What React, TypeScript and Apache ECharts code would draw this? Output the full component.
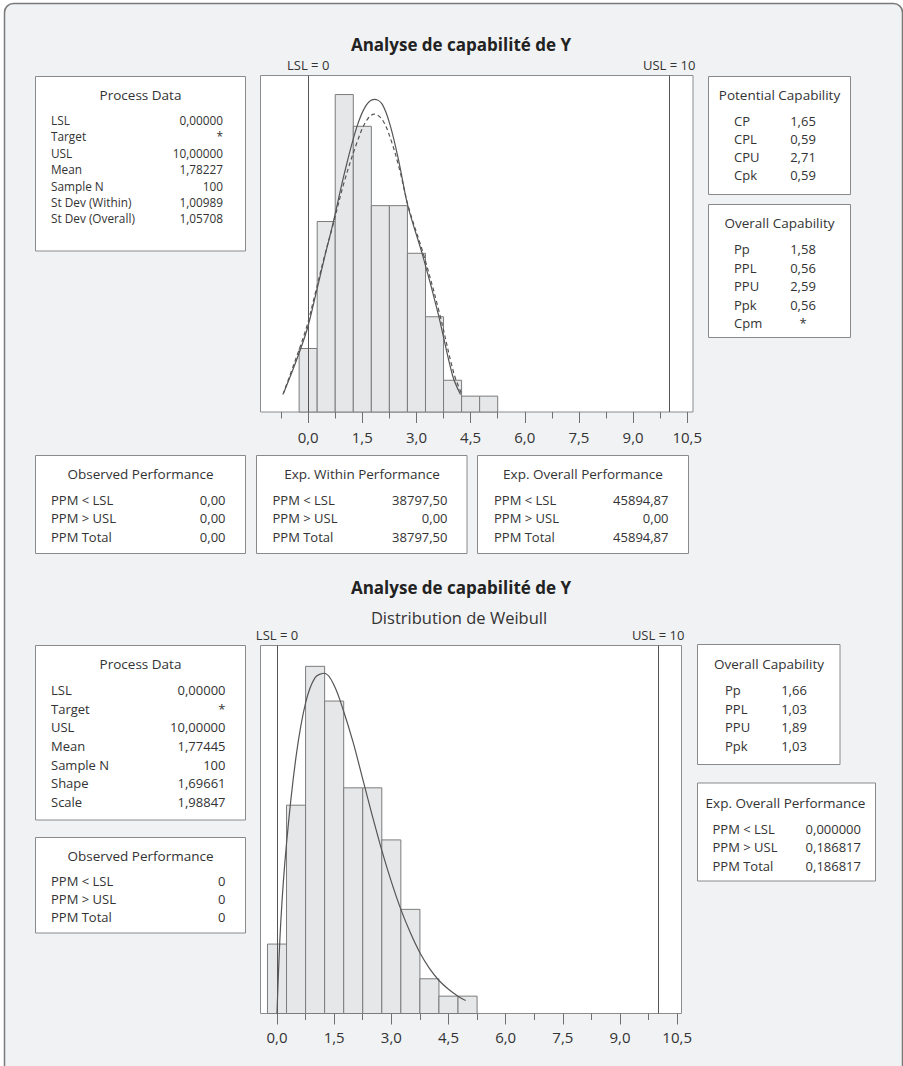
import React, { useEffect, useRef } from "react";
import * as echarts from "echarts";

// ---------- data ----------
const binCenters = [0, 0.5, 1, 1.5, 2, 2.5, 3, 3.5, 4, 4.5, 5];
const binWidth = 0.5;
const countsNormal = [4, 12, 20, 18, 13, 13, 10, 6, 2, 1, 1];
const countsWeibull = [4, 12, 20, 18, 13, 13, 10, 6, 2, 1, 1];

const withinCurve = [
  [-0.68, 1.2], [-0.35, 3.1], [-0.03, 5.2], [0.21, 7.4], [0.45, 9.7], [0.69, 11.9],
  [1.0, 15.0], [1.34, 17.9], [1.6, 19.3], [1.83, 19.7], [2.05, 19.4], [2.28, 18.0],
  [2.52, 15.7], [2.76, 13.0], [3.18, 9.8], [3.6, 6.2], [4.0, 2.3], [4.22, 1.1],
];
const overallCurve = [
  [-0.7, 1.1], [-0.38, 3.1], [-0.05, 5.3], [0.2, 7.5], [0.45, 9.8], [0.69, 11.8],
  [1.0, 14.5], [1.34, 16.9], [1.6, 18.3], [1.83, 18.77], [2.06, 18.4], [2.3, 17.1],
  [2.54, 15.2], [2.78, 12.9], [3.2, 9.9], [3.63, 6.3], [4.04, 2.4], [4.26, 1.1],
];
const weibullCurve = [
  [0, 0], [0.1, 5.3], [0.25, 9.8], [0.5, 14.8], [0.75, 17.9], [1.0, 19.35], [1.25, 19.6],
  [1.5, 18.9], [1.75, 17.4], [2.0, 15.6], [2.25, 13.5], [2.5, 11.4], [2.75, 9.4],
  [3.0, 7.6], [3.25, 6.0], [3.5, 4.65], [3.75, 3.5], [4.0, 2.6], [4.25, 1.9],
  [4.5, 1.4], [4.75, 1.0], [4.95, 0.75],
];

const majorTicks = [0, 1.5, 3, 4.5, 6, 7.5, 9, 10.5];
const minorTicks = [-0.75, 0.75, 2.25, 3.75, 5.25, 6.75, 8.25, 9.75];
const LSL = 0;
const USL = 10;

const titleText = "Analyse de capabilité de Y";
const subtitleText = "Distribution de Weibull";

const pd1Labels = ["LSL", "Target", "USL", "Mean", "Sample N", "St Dev (Within)", "St Dev (Overall)"];
const pd1Values = ["0,00000", "*", "10,00000", "1,78227", "100", "1,00989", "1,05708"];
const potLabels = ["CP", "CPL", "CPU", "Cpk"];
const potValues = ["1,65", "0,59", "2,71", "0,59"];
const ovc1Labels = ["Pp", "PPL", "PPU", "Ppk", "Cpm"];
const ovc1Values = ["1,58", "0,56", "2,59", "0,56", "*"];
const ppmLabels = ["PPM < LSL", "PPM > USL", "PPM Total"];
const obs1Values = ["0,00", "0,00", "0,00"];
const expWithinValues = ["38797,50", "0,00", "38797,50"];
const expOverall1Values = ["45894,87", "0,00", "45894,87"];

const pd2Labels = ["LSL", "Target", "USL", "Mean", "Sample N", "Shape", "Scale"];
const pd2Values = ["0,00000", "*", "10,00000", "1,77445", "100", "1,69661", "1,98847"];
const obs2Values = ["0", "0", "0"];
const ovc2Labels = ["Pp", "PPL", "PPU", "Ppk"];
const ovc2Values = ["1,66", "1,03", "1,89", "1,03"];
const expOverall2Values = ["0,000000", "0,186817", "0,186817"];

// ---------- styling ----------
const FONT = '"Open Sans", "Noto Sans", sans-serif';
const TXT = "#333";

function makeBox(b: any) {
  const fs = b.fontSize || 13;
  const els: any[] = [
    {
      type: "rect",
      z: 5,
      shape: { x: b.x, y: b.y, width: b.w, height: b.h },
      style: { fill: "#fff", stroke: "#8a8a8a", lineWidth: 1 },
    },
    {
      type: "text",
      z: 6,
      x: b.titleX,
      y: b.titleY,
      style: {
        text: b.title, fontSize: 13.5, fontFamily: FONT, fill: TXT,
        align: "center", verticalAlign: "middle",
      },
    },
  ];
  b.labels.forEach((lab: string, i: number) => {
    const y = b.rowY0 + i * b.step;
    els.push({
      type: "text", z: 6, x: b.labelX, y,
      style: { text: lab, fontSize: fs, fontFamily: FONT, fill: TXT, align: "left", verticalAlign: "middle" },
    });
    els.push({
      type: "text", z: 6, x: b.valueX, y,
      style: { text: b.values[i], fontSize: fs, fontFamily: FONT, fill: TXT, align: b.valueAlign, verticalAlign: "middle" },
    });
  });
  return els;
}

const fmt = (v: number) => v.toFixed(1).replace(".", ",");

function histSeries(xi: number, yi: number, counts: number[]) {
  return {
    type: "custom",
    xAxisIndex: xi,
    yAxisIndex: yi,
    z: 2,
    encode: { x: 0, y: 1 },
    data: binCenters.map((c, i) => [c, counts[i]]),
    renderItem: (_p: any, api: any) => {
      const x = api.value(0);
      const y = api.value(1);
      const p0 = api.coord([x - binWidth / 2, y]);
      const p1 = api.coord([x + binWidth / 2, 0]);
      return {
        type: "rect",
        shape: { x: p0[0], y: p0[1], width: p1[0] - p0[0], height: p1[1] - p0[1] },
        style: { fill: "#e6e7e9", stroke: "#7c7c7c", lineWidth: 1 },
      };
    },
  };
}

function specMarkLine() {
  return {
    silent: true,
    symbol: ["none", "none"],
    lineStyle: { color: "#555", width: 1, type: "solid" },
    label: {
      show: true, position: "end", formatter: "{b}", color: TXT,
      fontSize: 13, fontFamily: FONT, distance: 4,
    },
    data: [
      { name: `LSL = ${LSL}`, xAxis: LSL },
      { name: `USL = ${USL}`, xAxis: USL },
    ],
  };
}

function curveSeries(xi: number, yi: number, data: number[][], dashed: boolean, withMark: boolean) {
  const s: any = {
    type: "line",
    xAxisIndex: xi,
    yAxisIndex: yi,
    z: 4,
    data,
    showSymbol: false,
    symbol: "none",
    smooth: 0.35,
    lineStyle: { color: "#555", width: 1.2, type: dashed ? [4, 3] : "solid" },
  };
  if (withMark) s.markLine = specMarkLine();
  return s;
}

function majorAxis(gridIndex: number, min: number, max: number, margin: number) {
  return {
    type: "value", gridIndex, min, max, position: "bottom",
    axisLine: { show: false }, splitLine: { show: false },
    axisTick: { show: true, customValues: majorTicks, length: 11, lineStyle: { color: "#707070", width: 1 } },
    axisLabel: {
      show: true, customValues: majorTicks, formatter: fmt, margin,
      fontSize: 15, color: TXT, fontFamily: FONT,
    },
  };
}
function minorAxis(gridIndex: number, min: number, max: number) {
  return {
    type: "value", gridIndex, min, max, position: "bottom",
    axisLine: { show: false }, splitLine: { show: false },
    axisTick: {
      show: true, customValues: minorTicks.filter((t) => t > min && t < max),
      length: 6.5, lineStyle: { color: "#707070", width: 1 },
    },
    axisLabel: { show: false },
  };
}

export default function App() {
  const ref = useRef<HTMLDivElement>(null);
  useEffect(() => {
    if (!ref.current) return;
    const chart = echarts.init(ref.current, undefined, { renderer: "svg" });

    const g1 = { left: 260.5, top: 75.5, width: 432.5, height: 336.5 };
    const g2 = { left: 260.5, top: 645.5, width: 421, height: 368 };
    const top = { min: -1.32, max: 10.66 };
    const bot = { min: -0.433, max: 10.614 };

    const graphics: any[] = [
      {
        type: "rect", z: -100,
        shape: { x: 4.5, y: 3.5, width: 898, height: 1100, r: 9 },
        style: { fill: "#f1f2f4", stroke: "#7a7a7a", lineWidth: 1.5 },
      },
      {
        type: "text", z: 6, x: 461, y: 44,
        style: { text: titleText, fontSize: 17, fontWeight: "bold", fontFamily: FONT, fill: "#222", align: "center", verticalAlign: "middle" },
      },
      {
        type: "text", z: 6, x: 461, y: 587,
        style: { text: titleText, fontSize: 17, fontWeight: "bold", fontFamily: FONT, fill: "#222", align: "center", verticalAlign: "middle" },
      },
      {
        type: "text", z: 6, x: 459, y: 617,
        style: { text: subtitleText, fontSize: 16.5, fontFamily: FONT, fill: TXT, align: "center", verticalAlign: "middle" },
      },
      ...makeBox({ x: 35.5, y: 76.5, w: 210, h: 174.5, title: "Process Data", titleX: 140.5, titleY: 94.5, labels: pd1Labels, values: pd1Values, rowY0: 120, step: 16.4, fontSize: 11.8, labelX: 51, valueX: 223, valueAlign: "right" }),
      ...makeBox({ x: 708.5, y: 76.5, w: 142, h: 118, title: "Potential Capability", titleX: 779.5, titleY: 94.5, labels: potLabels, values: potValues, rowY0: 121, step: 18, labelX: 734, valueX: 803, valueAlign: "center" }),
      ...makeBox({ x: 708.5, y: 204.5, w: 142, h: 133, title: "Overall Capability", titleX: 779.5, titleY: 222.5, labels: ovc1Labels, values: ovc1Values, rowY0: 249, step: 18.5, labelX: 734, valueX: 803, valueAlign: "center" }),
      ...makeBox({ x: 35.5, y: 455.5, w: 210, h: 98, title: "Observed Performance", titleX: 140.5, titleY: 474, labels: ppmLabels, values: obs1Values, rowY0: 500, step: 18.3, labelX: 51, valueX: 225.5, valueAlign: "right" }),
      ...makeBox({ x: 256.5, y: 455.5, w: 210.5, h: 98, title: "Exp. Within Performance", titleX: 362, titleY: 474, labels: ppmLabels, values: expWithinValues, rowY0: 500, step: 18.3, labelX: 272.5, valueX: 447.5, valueAlign: "right" }),
      ...makeBox({ x: 477.5, y: 455.5, w: 211, h: 98, title: "Exp. Overall Performance", titleX: 583, titleY: 474, labels: ppmLabels, values: expOverall1Values, rowY0: 500, step: 18.3, labelX: 494, valueX: 668.5, valueAlign: "right" }),
      ...makeBox({ x: 35.5, y: 645.5, w: 210, h: 174.5, title: "Process Data", titleX: 140.5, titleY: 664, labels: pd2Labels, values: pd2Values, rowY0: 690, step: 18.65, labelX: 51, valueX: 225.5, valueAlign: "right" }),
      ...makeBox({ x: 35.5, y: 837.5, w: 210, h: 95.5, title: "Observed Performance", titleX: 140.5, titleY: 856, labels: ppmLabels, values: obs2Values, rowY0: 881, step: 18, labelX: 51, valueX: 225.5, valueAlign: "right" }),
      ...makeBox({ x: 697.5, y: 644.5, w: 142.5, h: 120, title: "Overall Capability", titleX: 769, titleY: 663.5, labels: ovc2Labels, values: ovc2Values, rowY0: 690, step: 18.6, labelX: 725, valueX: 794, valueAlign: "center" }),
      ...makeBox({ x: 697.5, y: 783, w: 178, h: 98, title: "Exp. Overall Performance", titleX: 785.5, titleY: 802.5, labels: ppmLabels, values: expOverall2Values, rowY0: 829, step: 18.4, labelX: 712.5, valueX: 861, valueAlign: "right" }),
    ];

    const gridStyle = { show: true, backgroundColor: "#fff", borderColor: "#8c8c8c", borderWidth: 1 };

    chart.setOption({
      animation: false,
      backgroundColor: "#fff",
      textStyle: { fontFamily: FONT },
      grid: [
        { ...g1, ...gridStyle },
        { ...g1, show: false },
        { ...g2, ...gridStyle },
        { ...g2, show: false },
      ],
      xAxis: [
        majorAxis(0, top.min, top.max, 17),
        minorAxis(1, top.min, top.max),
        majorAxis(2, bot.min, bot.max, 16),
        minorAxis(3, bot.min, bot.max),
      ],
      yAxis: [
        { type: "value", gridIndex: 0, min: 0, max: 21.2, show: false },
        { type: "value", gridIndex: 1, min: 0, max: 1, show: false },
        { type: "value", gridIndex: 2, min: 0, max: 21.2, show: false },
        { type: "value", gridIndex: 3, min: 0, max: 1, show: false },
      ],
      series: [
        histSeries(0, 0, countsNormal),
        curveSeries(0, 0, overallCurve, true, false),
        curveSeries(0, 0, withinCurve, false, true),
        histSeries(2, 2, countsWeibull),
        curveSeries(2, 2, weibullCurve, false, true),
      ],
      graphic: { elements: graphics },
    });

    return () => chart.dispose();
  }, []);

  return (
    <div
      ref={ref}
      style={{ position: "fixed", left: 0, top: 0, width: 903, height: 1066 }}
    />
  );
}
